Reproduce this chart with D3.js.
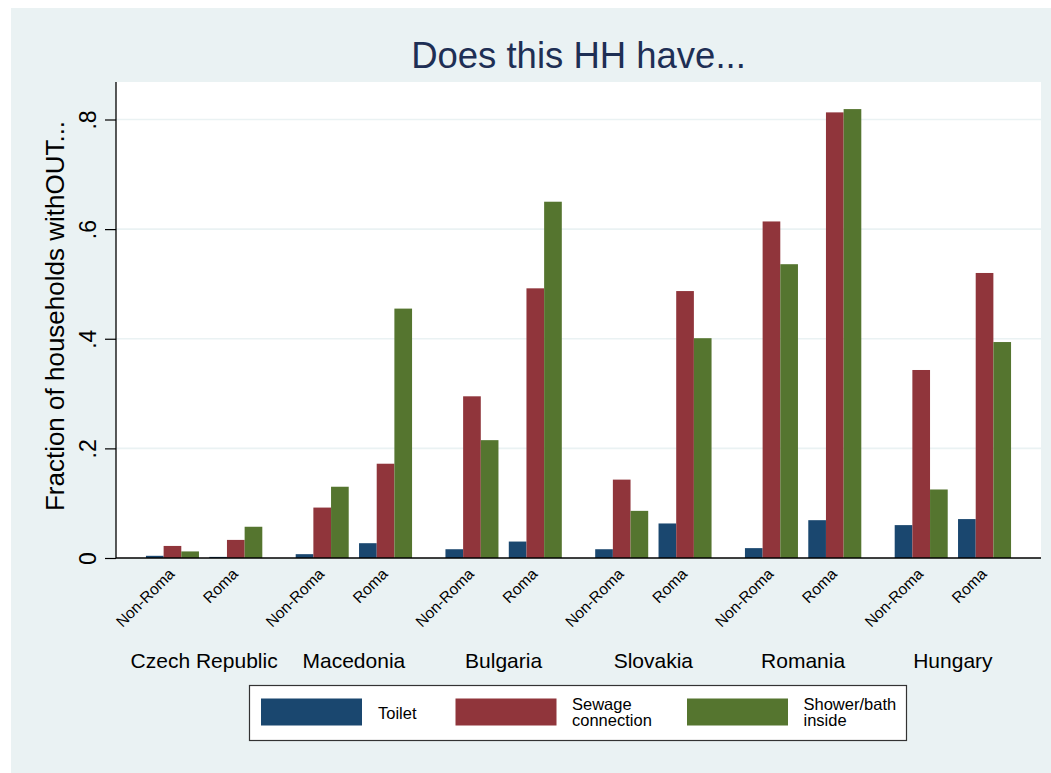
<!DOCTYPE html>
<html>
<head>
<meta charset="utf-8">
<script src="https://cdn.jsdelivr.net/npm/d3@7"></script>
<style>
  html, body { margin: 0; padding: 0; background: #ffffff; }
  svg { display: block; }
  text { font-family: "Liberation Sans", Arial, Helvetica, sans-serif; }
</style>
</head>
<body>
<svg id="chart" width="1051" height="773"></svg>
<script>
// Countries along the x axis, with two population groups inside each
const countries = ["Czech Republic", "Macedonia", "Bulgaria", "Slovakia", "Romania", "Hungary"];
const groups = ["Non-Roma", "Roma"];
const seriesNames = ["Toilet", "Sewage connection", "Shower/bath inside"];
const legendLines = [["Toilet"], ["Sewage", "connection"], ["Shower/bath", "inside"]];

// Fraction of households without each amenity, ordered country by country (Non-Roma, Roma)
const toilet = [0.004, 0.002, 0.007, 0.027, 0.016, 0.030, 0.016, 0.063, 0.018, 0.069, 0.060, 0.071];
const sewage = [0.022, 0.033, 0.092, 0.172, 0.295, 0.492, 0.143, 0.487, 0.614, 0.813, 0.343, 0.520];
const shower = [0.012, 0.057, 0.130, 0.455, 0.215, 0.650, 0.086, 0.401, 0.536, 0.819, 0.125, 0.394];

const yTicks = [0, 0.2, 0.4, 0.6, 0.8];
const yTickLabels = ["0", ".2", ".4", ".6", ".8"];

const colors = ["#1a476f", "#90353b", "#55752f"];

// Build the flat table the scales are drawn from
const seriesValues = [toilet, sewage, shower];
const rows = [];
countries.forEach((c, ci) => {
  groups.forEach((g, gi) => {
    seriesNames.forEach((s, si) => {
      rows.push({ country: c, group: g, series: s, si: si, value: seriesValues[si][ci * 2 + gi] });
    });
  });
});

const svg = d3.select("#chart");

// Graph region background
svg.append("rect").attr("x", 11).attr("y", 8).attr("width", 1040).attr("height", 765).attr("fill", "#eaf2f3");

const plot = { left: 116, right: 1041, top: 82, bottom: 558 };

// Plot region
svg.append("rect")
  .attr("x", plot.left).attr("y", plot.top)
  .attr("width", plot.right - plot.left).attr("height", plot.bottom - plot.top)
  .attr("fill", "#ffffff");

const y = d3.scaleLinear().domain([0, 0.8]).range([plot.bottom, 119.5]);

const x0 = d3.scaleBand().domain(countries).range([plot.left, plot.right]).paddingInner(0.223).paddingOuter(0.2);
const x1 = d3.scaleBand().domain(groups).range([0, x0.bandwidth()]).paddingInner(0.163).paddingOuter(0);
const x2 = d3.scaleBand().domain(seriesNames).range([0, x1.bandwidth()]).padding(0);

// Horizontal grid lines
svg.append("g").selectAll("line")
  .data(yTicks.filter(t => t > 0))
  .join("line")
  .attr("x1", plot.left).attr("x2", plot.right)
  .attr("y1", d => y(d)).attr("y2", d => y(d))
  .attr("stroke", "#eaf2f3").attr("stroke-width", 1.6);

// Bars
svg.append("g").selectAll("rect")
  .data(rows)
  .join("rect")
  .attr("x", d => x0(d.country) + x1(d.group) + x2(d.series))
  .attr("y", d => y(d.value))
  .attr("width", x2.bandwidth())
  .attr("height", d => y(0) - y(d.value))
  .attr("fill", d => colors[d.si]);

// Y axis
const yAxis = d3.axisLeft(y).tickValues(yTicks).tickSize(11).tickFormat((d, i) => yTickLabels[i]);
const gy = svg.append("g").attr("transform", `translate(${plot.left},0)`).call(yAxis);
gy.select(".domain").remove();
gy.selectAll(".tick line").attr("stroke", "#000").attr("stroke-width", 1.2);
gy.selectAll(".tick text")
  .attr("font-size", 23)
  .attr("fill", "#000")
  .attr("text-anchor", "middle")
  .attr("x", null).attr("dy", null)
  .attr("transform", "translate(-20,0) rotate(-90)");

svg.append("line")
  .attr("x1", plot.left).attr("x2", plot.left)
  .attr("y1", plot.top).attr("y2", plot.bottom)
  .attr("stroke", "#000").attr("stroke-width", 1.3);

// X axis baseline
svg.append("line")
  .attr("x1", plot.left).attr("x2", plot.right)
  .attr("y1", plot.bottom).attr("y2", plot.bottom)
  .attr("stroke", "#000").attr("stroke-width", 1.5);

// Group labels, slanted
const groupLabels = [];
countries.forEach(c => groups.forEach(g => groupLabels.push({ country: c, group: g })));
svg.append("g").selectAll("text")
  .data(groupLabels)
  .join("text")
  .attr("transform", d => {
    const cx = x0(d.country) + x1(d.group) + x1.bandwidth() / 2;
    return `translate(${cx + 3},${575}) rotate(-45)`;
  })
  .attr("text-anchor", "end")
  .attr("font-size", 15.5)
  .attr("fill", "#000")
  .text(d => d.group);

// Country labels
svg.append("g").selectAll("text")
  .data(countries)
  .join("text")
  .attr("x", d => x0(d) + x0.bandwidth() / 2)
  .attr("y", 668)
  .attr("text-anchor", "middle")
  .attr("font-size", 21)
  .attr("fill", "#000")
  .text(d => d);

// Title
svg.append("text")
  .attr("x", (plot.left + plot.right) / 2)
  .attr("y", 68)
  .attr("text-anchor", "middle")
  .attr("font-size", 36.5)
  .attr("fill", "#1e2f55")
  .text("Does this HH have...");

// Y axis title
svg.append("text")
  .attr("transform", `translate(64,${(plot.top + plot.bottom) / 2 - 4}) rotate(-90)`)
  .attr("text-anchor", "middle")
  .attr("font-size", 26)
  .attr("fill", "#000")
  .text("Fraction of households withOUT...");

// Legend
const legend = svg.append("g");
legend.append("rect")
  .attr("x", 249.5).attr("y", 685.5).attr("width", 657).attr("height", 55)
  .attr("fill", "#ffffff").attr("stroke", "#333").attr("stroke-width", 1.2);

// Left edge of each key swatch
const keyLeft = [261, 455.5, 687];
const items = legend.selectAll("g.item")
  .data(seriesNames)
  .join("g")
  .attr("class", "item")
  .attr("transform", (d, i) => `translate(${keyLeft[i]},0)`);

items.append("rect")
  .attr("x", 0).attr("y", 698.5).attr("width", 101).attr("height", 27)
  .attr("fill", (d, i) => colors[i]);

items.append("text")
  .attr("x", 117)
  .attr("font-size", 16.5)
  .attr("fill", "#000")
  .each(function (d, i) {
    const lines = legendLines[i];
    const t = d3.select(this);
    if (lines.length === 1) {
      t.attr("y", 719).text(lines[0]);
    } else {
      lines.forEach((ln, k) => {
        t.append("tspan").attr("x", 116.5).attr("y", 709.5 + k * 16).text(ln);
      });
    }
  });
</script>
</body>
</html>
